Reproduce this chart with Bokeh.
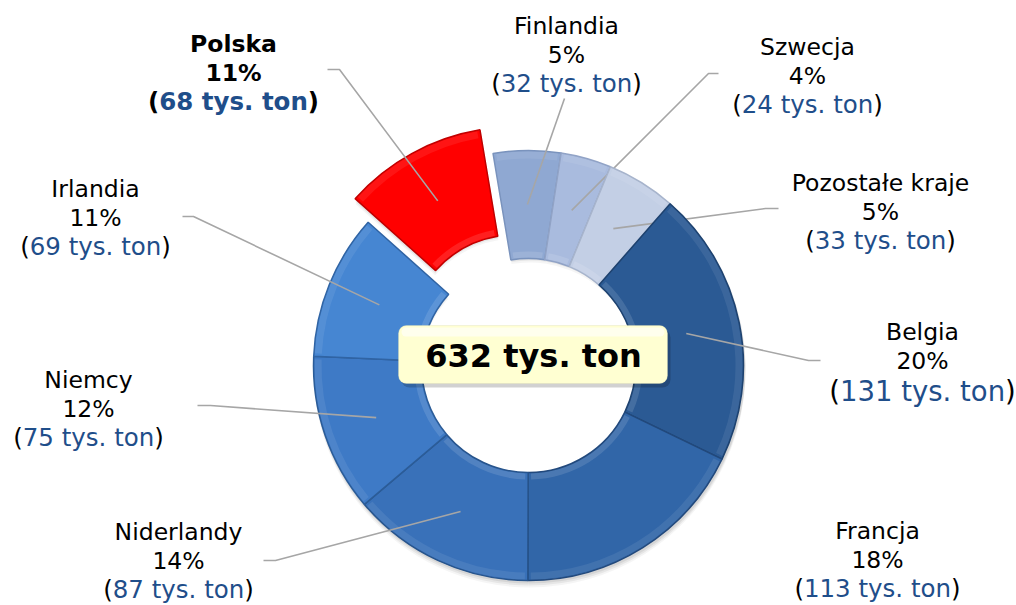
import math
from bokeh.plotting import figure
from bokeh.models import Range1d, BoxAnnotation, Label
from bokeh.core.properties import value
from bokeh.embed import file_html
from bokeh.resources import INLINE

# ---------------- data ----------------
countries = ["Finlandia", "Szwecja", "Pozostałe kraje", "Belgia", "Francja",
             "Niderlandy", "Niemcy", "Irlandia", "Polska"]
tonnes = [32, 24, 33, 131, 113, 87, 75, 69, 68]
percent_labels = ["5%", "4%", "5%", "20%", "18%", "14%", "12%", "11%", "11%"]
value_labels = ["32 tys. ton", "24 tys. ton", "33 tys. ton", "131 tys. ton", "113 tys. ton",
                "87 tys. ton", "75 tys. ton", "69 tys. ton", "68 tys. ton"]
total_label = "632 tys. ton"

# ---------------- styles / positions ----------------
colors = ["#8FA8D2", "#A9BBDE", "#C3CFE5", "#2B5A94", "#3166A8",
          "#3971B9", "#3E7AC6", "#4686D2", "#FF0000"]
edge_colors = ["#7A93BD", "#91A3C6", "#A7B4CC", "#1E426F", "#22497C",
               "#27548C", "#2B5C98", "#3064A4", "#C00000"]
exploded = [False] * 8 + [True]
bold = [False] * 8 + [True]

W, H = 1016, 605


def Y(img_y):
    return 605 - img_y


cx, cy = 528, Y(365)
r_in, r_out = 107, 215
r_mid = (r_in + r_out) / 2
first_angle = -9.5   # degrees, clockwise from 12 o'clock
explode_px = 27

# label anchor (image coords): center x, y of three lines
label_x = [566, 807, 880, 922, 877, 178, 88, 95, 233]
label_y0 = [25, 46, 182, 331, 530, 531, 379, 188, 43]
line_gap = 29
value_size = [24.5, 24.5, 24.5, 27.5, 24.5, 24.5, 24.5, 24.5, 24.5]
# leader lines: list of (elbow, end) image points; None -> no leader
leaders = [
    [(564, 98)],
    [(708, 73), (718, 73)],
    [(765, 208), (778, 208)],
    [(808, 360), (820, 360)],
    None,
    [(275, 560), (263, 560)],
    [(210, 405), (197, 405)],
    [(193, 216), (182, 216)],
    [(339, 69), (327, 69)],
]

# DejaVu Sans advance widths (em units) for width computation
W_REG = {" ": 651, "(": 799, ")": 799, ".": 651, "t": 803, "y": 1212, "s": 1067,
         "o": 1253, "n": 1298}
W_BOLD = {" ": 713, "(": 937, ")": 937, ".": 780, "t": 979, "y": 1331, "s": 1221,
          "o": 1405, "n": 1458}


def text_width(s, size, is_bold):
    table = W_BOLD if is_bold else W_REG
    dig = 1425 if is_bold else 1303
    return sum(table.get(ch, dig) for ch in s) / 2048.0 * size


p = figure(width=W, height=H, output_backend="svg", toolbar_location=None,
           x_range=Range1d(0, W), y_range=Range1d(0, H),
           min_border=0, min_border_left=0, min_border_right=0,
           min_border_top=0, min_border_bottom=0)
p.axis.visible = False
p.xgrid.visible = False
p.ygrid.visible = False
p.outline_line_color = None
p.background_fill_color = "white"
p.border_fill_color = "white"

total = sum(tonnes)
font = value("DejaVu Sans")

# slice geometry
geo = []
cum = 0
for i, v in enumerate(tonnes):
    th0 = first_angle + 360.0 * cum / total
    th1 = first_angle + 360.0 * (cum + v) / total
    cum += v
    thm = (th0 + th1) / 2
    ox, oy = cx, cy
    if exploded[i]:
        ox += explode_px * math.sin(math.radians(thm))
        oy += explode_px * math.cos(math.radians(thm))
    geo.append((th0, th1, thm, ox, oy))

# soft shadow under each slice
for (th0, th1, thm, ox, oy) in geo:
    for k, a in [(6, 0.04), (4, 0.06), (2, 0.07)]:
        p.annular_wedge(x=ox + 1, y=oy - k, inner_radius=r_in + 2, outer_radius=r_out + 1,
                        start_angle=math.radians(90 - th0), end_angle=math.radians(90 - th1),
                        direction="clock", fill_color="black", fill_alpha=a, line_color=None)

for i, name in enumerate(countries):
    th0, th1, thm, ox, oy = geo[i]
    p.annular_wedge(x=ox, y=oy, inner_radius=r_in, outer_radius=r_out,
                    start_angle=math.radians(90 - th0), end_angle=math.radians(90 - th1),
                    direction="clock", fill_color=colors[i],
                    line_color=edge_colors[i], line_width=1.5)
    # bevel highlights
    p.annular_wedge(x=ox, y=oy, inner_radius=r_out - 8, outer_radius=r_out - 1,
                    start_angle=math.radians(90 - th0 - 0.8), end_angle=math.radians(90 - th1 + 0.8),
                    direction="clock", fill_color="white", fill_alpha=0.08, line_color=None)
    p.annular_wedge(x=ox, y=oy, inner_radius=r_in + 1, outer_radius=r_in + 7,
                    start_angle=math.radians(90 - th0 - 1.5), end_angle=math.radians(90 - th1 + 1.5),
                    direction="clock", fill_color="white", fill_alpha=0.12, line_color=None)

    # leader line
    if leaders[i] is not None:
        sx = ox + r_mid * math.sin(math.radians(thm))
        sy = oy + r_mid * math.cos(math.radians(thm))
        xs = [sx] + [pt[0] for pt in leaders[i]]
        ys = [sy] + [Y(pt[1]) for pt in leaders[i]]
        p.line(xs, ys, line_color="#A6A6A6", line_width=1.6)

    # labels
    lx = label_x[i]
    b = bold[i]
    style = "bold" if b else "normal"
    fs = "23.5px"
    p.text(x=[lx], y=[Y(label_y0[i])], text=[name], text_font=font, text_font_size=fs,
           text_font_style=style, text_align="center", text_baseline="middle", text_color="black")
    p.text(x=[lx], y=[Y(label_y0[i] + line_gap)], text=[percent_labels[i]], text_font=font,
           text_font_size=fs, text_font_style=style, text_align="center",
           text_baseline="middle", text_color="black")
    vs = value_size[i]
    mid = value_labels[i]
    wp = text_width("(", vs, b)
    wm = text_width(mid, vs, b)
    left = lx - (2 * wp + wm) / 2
    vy = Y(label_y0[i] + 2 * line_gap + (1 if vs > 25 else 0))
    p.text(x=[left], y=[vy], text=["("], text_font=font, text_font_size=f"{vs}px",
           text_font_style=style, text_align="left", text_baseline="middle", text_color="black")
    p.text(x=[left + wp], y=[vy], text=[mid], text_font=font, text_font_size=f"{vs}px",
           text_font_style=style, text_align="left", text_baseline="middle",
           text_color="#1F4E8A")
    p.text(x=[left + wp + wm], y=[vy], text=[")"], text_font=font, text_font_size=f"{vs}px",
           text_font_style=style, text_align="left", text_baseline="middle", text_color="black")

# central total box
p.add_layout(BoxAnnotation(left=401, right=670, top=Y(329), bottom=Y(387),
                           fill_color="black", fill_alpha=0.18, line_color=None,
                           border_radius=8))
p.add_layout(BoxAnnotation(left=398, right=667, top=Y(325), bottom=Y(383),
                           fill_color="#FFFFD2", fill_alpha=1.0, line_color="#D8D8B0",
                           line_width=1, border_radius=8))
p.add_layout(BoxAnnotation(left=401, right=664, top=Y(327), bottom=Y(336),
                           fill_color="white", fill_alpha=0.6, line_color=None,
                           border_radius=6))
p.add_layout(Label(x=533, y=Y(355), text=total_label, text_font="DejaVu Sans",
                   text_font_size="32px", text_font_style="bold", text_align="center",
                   text_baseline="middle", text_color="black"))

open("out.html", "w").write(file_html(p, INLINE))
